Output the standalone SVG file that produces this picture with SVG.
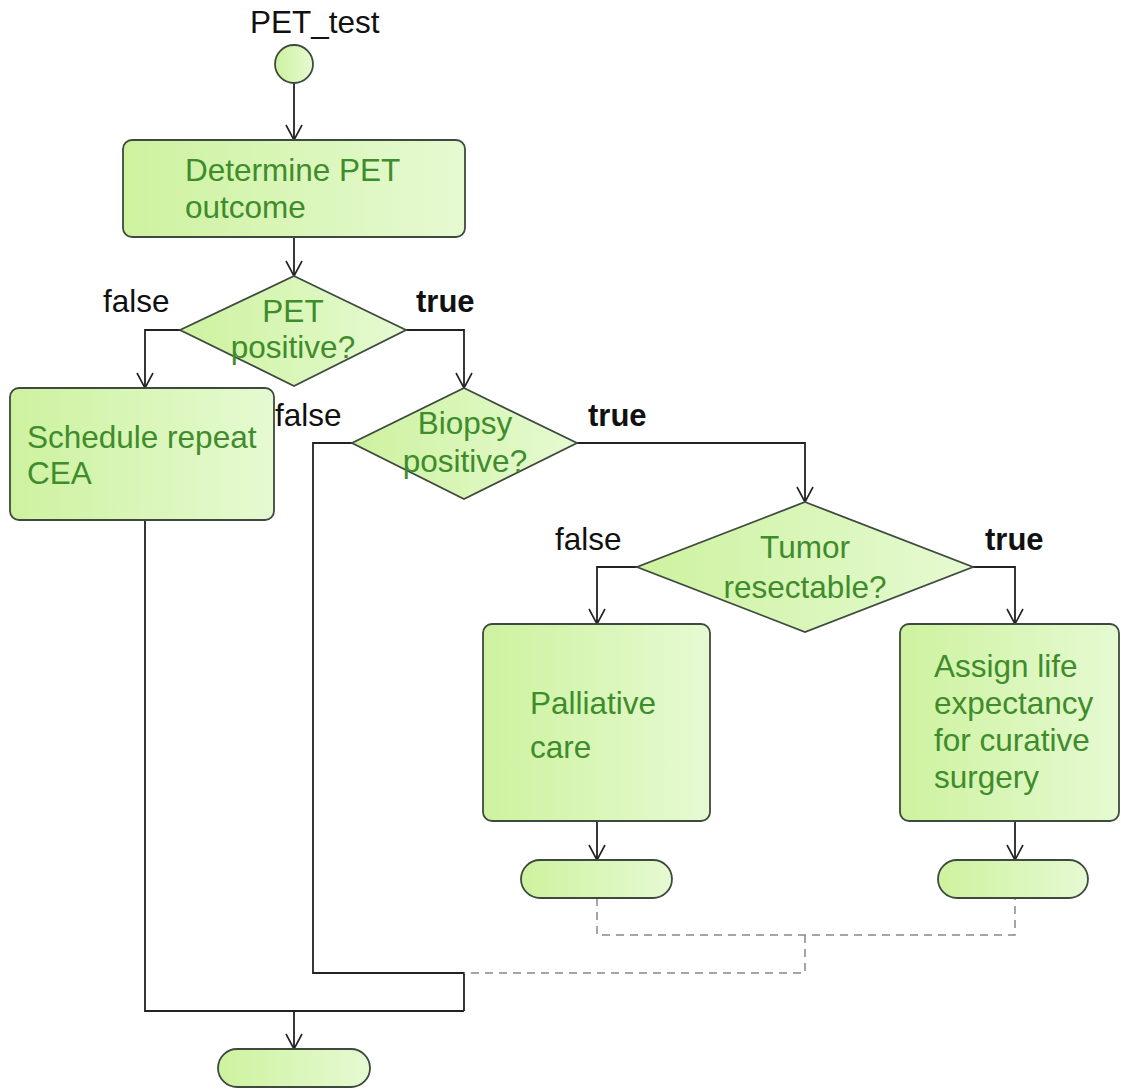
<svg xmlns="http://www.w3.org/2000/svg" width="1121" height="1089" viewBox="0 0 1121 1089">
<defs>
<linearGradient id="g" x1="0" y1="0" x2="1" y2="0">
<stop offset="0" stop-color="#cdf29f"/>
<stop offset="1" stop-color="#e6fad2"/>
</linearGradient>
<marker id="arr" viewBox="0 0 20 20" refX="16" refY="10" markerWidth="20" markerHeight="20" markerUnits="userSpaceOnUse" orient="auto">
<path d="M1,2 L16,10 L1,18" fill="none" stroke="#222" stroke-width="1.6"/>
</marker>
<style>
.n{fill:url(#g);stroke:#3d4a3d;stroke-width:1.8}
.t{font-family:"Liberation Sans",Arial,sans-serif;font-size:31.5px;fill:#3f8c2c}
.l{font-family:"Liberation Sans",Arial,sans-serif;font-size:31.5px;fill:#111}
.b{font-weight:bold;font-size:31px}
.c{fill:none;stroke:#222;stroke-width:1.8}
.d{fill:none;stroke:#888;stroke-width:1.5;stroke-dasharray:8,6}
</style>
</defs>
<rect width="1121" height="1089" fill="#fff"/>
<g id="connectors">
<path class="c" d="M294,83 V140" marker-end="url(#arr)"/>
<path class="c" d="M294,237 V276" marker-end="url(#arr)"/>
<path class="c" d="M180,330 H145 V388" marker-end="url(#arr)"/>
<path class="c" d="M406,330 H464 V388" marker-end="url(#arr)"/>
<path class="c" d="M577,443 H805 V502" marker-end="url(#arr)"/>
<path class="c" d="M637,567 H597 V624" marker-end="url(#arr)"/>
<path class="c" d="M973,567 H1015 V624" marker-end="url(#arr)"/>
<path class="c" d="M597,821 V860" marker-end="url(#arr)"/>
<path class="c" d="M1015,821 V860" marker-end="url(#arr)"/>
<path class="c" d="M352,443 H313 V973 H464 V1011"/>
<path class="c" d="M145,520 V1011 H464"/>
<path class="c" d="M294,1011 V1049" marker-end="url(#arr)"/>
<path class="d" d="M597,898 V935 H1015 V898"/>
<path class="d" d="M805,935 V973 H464"/>
<text class="l" x="103" y="312">false</text>
<text class="l b" x="416" y="312">true</text>
<text class="l" x="275" y="426">false</text>
<text class="l b" x="588" y="426">true</text>
<text class="l" x="555" y="550">false</text>
<text class="l b" x="985" y="550">true</text>
</g>
<g id="start">
<text class="l" x="250" y="33">PET_test</text>
<circle class="n" cx="294" cy="64" r="19"/>
</g>
<g id="determine">
<rect class="n" x="123" y="140" width="342" height="97" rx="9"/>
<text class="t" x="185" y="181">Determine PET</text>
<text class="t" x="185" y="218">outcome</text>
</g>
<g id="pet_positive">
<polygon class="n" points="294,276 406,330 294,386 180,330"/>
<text class="t" x="293" y="322" text-anchor="middle">PET</text>
<text class="t" x="293" y="358" text-anchor="middle">positive?</text>
</g>
<g id="schedule">
<rect class="n" x="10" y="388" width="264" height="132" rx="9"/>
<text class="t" x="27" y="448">Schedule repeat</text>
<text class="t" x="27" y="484">CEA</text>
</g>
<g id="biopsy">
<polygon class="n" points="464,388 577,443 464,499 352,443"/>
<text class="t" x="465" y="434" text-anchor="middle">Biopsy</text>
<text class="t" x="465" y="472" text-anchor="middle">positive?</text>
</g>
<g id="tumor">
<polygon class="n" points="805,502 973,567 805,632 637,567"/>
<text class="t" x="805" y="558" text-anchor="middle">Tumor</text>
<text class="t" x="805" y="598" text-anchor="middle">resectable?</text>
</g>
<g id="palliative">
<rect class="n" x="483" y="624" width="227" height="197" rx="9"/>
<text class="t" x="530" y="714">Palliative</text>
<text class="t" x="530" y="758">care</text>
</g>
<g id="assign">
<rect class="n" x="900" y="624" width="219" height="197" rx="9"/>
<text class="t" x="934" y="677">Assign life</text>
<text class="t" x="934" y="714">expectancy</text>
<text class="t" x="934" y="751">for curative</text>
<text class="t" x="934" y="788">surgery</text>
</g>
<g id="end_palliative">
<rect class="n" x="521" y="860" width="151" height="38" rx="19"/>
</g>
<g id="end_assign">
<rect class="n" x="938" y="860" width="150" height="38" rx="19"/>
</g>
<g id="end_main">
<rect class="n" x="218" y="1049" width="152" height="38" rx="19"/>
</g>
</svg>
